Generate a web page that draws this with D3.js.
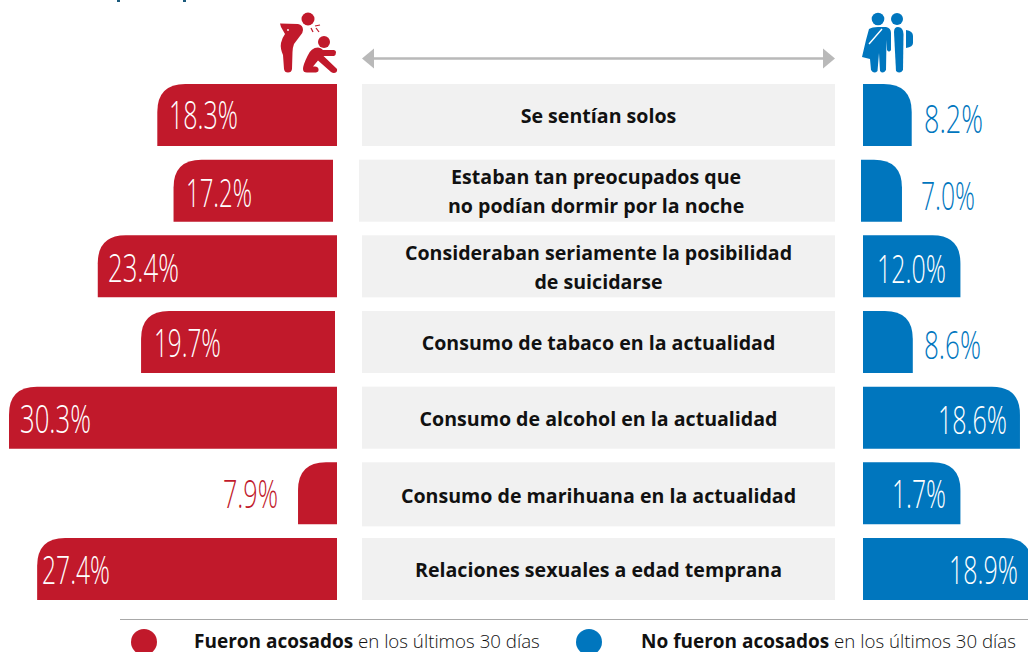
<!DOCTYPE html>
<html><head><meta charset="utf-8">
<script src="https://cdnjs.cloudflare.com/ajax/libs/d3/7.8.5/d3.min.js"></script>
<style>html,body{margin:0;padding:0;background:#fff;overflow:hidden}svg{display:block}</style>
</head><body><svg id="c" width="1028" height="652"></svg>
<script>
const categories=[
 ["Se sentían solos"],
 ["Estaban tan preocupados que","no podían dormir por la noche"],
 ["Consideraban seriamente la posibilidad","de suicidarse"],
 ["Consumo de tabaco en la actualidad"],
 ["Consumo de alcohol en la actualidad"],
 ["Consumo de marihuana en la actualidad"],
 ["Relaciones sexuales a edad temprana"]];
const bulliedLabels=["18.3%","17.2%","23.4%","19.7%","30.3%","7.9%","27.4%"];
const notBulliedLabels=["8.2%","7.0%","12.0%","8.6%","18.6%","1.7%","18.9%"];
// drawn bar lengths as they appear in the picture (the source is not to scale with its labels)
const bulliedBars=[16.6,15.1,22.1,18.1,30.3,3.6,27.7];
const notBulliedBars=[4.5,3.6,9.0,4.6,14.5,9.0,15.6];
const legendBold=["Fueron acosados","No fueron acosados"];
const legendRest=" en los últimos 30 días";

const RED="#c1192b",BLUE="#0076be",GREY="#f1f1f1",ARROW="#b9b9b9";
const svg=d3.select("#c");
const idx=d3.range(categories.length);
const y=d3.scaleBand().domain(idx).range([84,600]).paddingInner(0.18);
const len=d3.scaleLinear().domain([0,30.3]).range([0,328]);
const leftNudge={1:-4,3:-2}, rightNudge={1:-2}, panelNudge={1:-3};
const leftBase=337,rightBase=863,R=28;

function leftBar(x0,x1,t,h){const r=Math.min(R,x1-x0,h);
 const p=d3.path();p.moveTo(x1,t);p.lineTo(x0+r,t);p.quadraticCurveTo(x0,t,x0,t+r);p.lineTo(x0,t+h);p.lineTo(x1,t+h);p.closePath();return p.toString();}
function rightBar(x0,x1,t,h){const r=Math.min(R,x1-x0,h);
 const p=d3.path();p.moveTo(x0,t);p.lineTo(x1-r,t);p.quadraticCurveTo(x1,t,x1,t+r);p.lineTo(x1,t+h);p.lineTo(x0,t+h);p.closePath();return p.toString();}

// clipped remnants of the heading at the very top edge
svg.append("g").attr("fill","#1b5a7c").selectAll("rect").data([117,183]).join("rect")
 .attr("x",d=>d).attr("y",0).attr("width",3).attr("height",2);

// panels
svg.selectAll("rect.panel").data(idx).join("rect").attr("class","panel")
 .attr("x",i=>362+(panelNudge[i]||0)).attr("width",i=>473-(panelNudge[i]||0))
 .attr("y",i=>y(i)).attr("height",i=>y.bandwidth()+(i===5?2:0)).attr("fill",GREY);
// bars
svg.selectAll("path.l").data(idx).join("path").attr("class","l").attr("fill",RED)
 .attr("d",i=>{const b=leftBase+(leftNudge[i]||0);return leftBar(leftBase-len(bulliedBars[i]),b,y(i),y.bandwidth());});
svg.selectAll("path.r").data(idx).join("path").attr("class","r").attr("fill",BLUE)
 .attr("d",i=>{const b=rightBase+(rightNudge[i]||0);return rightBar(b,rightBase+len(notBulliedBars[i]),y(i),y.bandwidth());});

const FONT="'Open Sans',sans-serif";
// squeezes a real text horizontally to the width it has in the picture
function pct(x,yy,t,fill,w){
 const el=svg.append("text").attr("fill",fill).attr("font-family",FONT).attr("font-weight",300).attr("font-size",38).text(t);
 const n=el.node().getComputedTextLength();
 el.attr("transform",`translate(${x},${yy}) scale(${w/n},1)`);
}
const lx=[169,186,108,154,20,223,42], lw=[69,66,71,67,71,55,68];
const rx=[924,921,877,924,938,892,949], rw=[59,54,69,57,69,54,69];
const ldy=[14,16,16,15,15,15,15];
const rdy=[18,19,17,17,16,15,15];
idx.forEach(i=>{
 const c=y(i)+y.bandwidth()/2;
 pct(lx[i],c+ldy[i],bulliedLabels[i],i===5?RED:"#fff",lw[i]);
 pct(rx[i],c+rdy[i],notBulliedLabels[i],[0,1,3].includes(i)?BLUE:"#fff",rw[i]);
 const lines=categories[i];
 const cx=598.5+(panelNudge[i]||0)*0.8;
 lines.forEach((t,k)=>{
  const el=svg.append("text").attr("text-anchor","middle").attr("fill","#111").attr("font-family",FONT)
   .attr("font-weight",700).attr("font-size",20).text(t);
  el.attr("transform",`translate(${cx},${c+8+(i===5?2:0)+(k-(lines.length-1)/2)*29}) scale(0.98,1)`);
 });
});

// double arrow
svg.append("line").attr("x1",370).attr("x2",827).attr("y1",58.5).attr("y2",58.5).attr("stroke",ARROW).attr("stroke-width",2.5);
svg.append("path").attr("fill",ARROW).attr("d","M362,58.5L374,48.5V68.5Z");
svg.append("path").attr("fill",ARROW).attr("d","M835,58.5L823,48.5V68.5Z");

// icons
const ic=svg.append("g").attr("fill",RED);
ic.append("circle").attr("cx",308).attr("cy",19).attr("r",6.5);
ic.append("path").attr("d","M280,23.5L298,24Q303,25 303,30Q303,33 300,36L294,44Q292.5,48 292.5,52L292,69Q291.5,72.5 288,72.5Q284.5,72.5 284,69L283,55Q280,48 281,43Q282,38 285,34L281,27Z");
ic.append("circle").attr("cx",324).attr("cy",42).attr("r",6);
ic.append("path").attr("d","M318,47.5Q311,47.5 307.5,56Q303,65 303,69Q303,72.5 307,72.5L316,72.5Q319,72 318.5,69Q318,66.5 315,66.5L313,66.5L318,60.5L331,72Q334,74 336.5,72Q338,69.5 336,68L323.5,56L334,56Q336,55 336,52.5Q336,50 333.5,50L323,50Q321,47.5 318,47.5Z");
svg.append("circle").attr("cx",288).attr("cy",30).attr("r",0.9).attr("fill","#fff");
svg.append("g").attr("stroke",RED).attr("stroke-width",1.2).selectAll("line")
 .data([[315,26,320,25],[311,28,313,32],[316,28,319,32]]).join("line")
 .attr("x1",d=>d[0]).attr("y1",d=>d[1]).attr("x2",d=>d[2]).attr("y2",d=>d[3]);
const ib=svg.append("g").attr("fill",BLUE);
ib.append("circle").attr("cx",878).attr("cy",19).attr("r",6.3);
ib.append("circle").attr("cx",897).attr("cy",19).attr("r",6);
ib.append("path").attr("d","M869,29Q872,27 878,27L886,27Q891,28 891,33L891,50Q889,53 887,50L886.5,40L886,70Q883,74.5 880,71L879,53L877.5,71Q874,74.5 871,70L870,59L862,57L866,40Z");
ib.append("path").attr("d","M894,32Q894,27 898,27Q903,27 903.5,34L903,70Q900,74.5 896,71L895,52Z");
ib.append("path").attr("d","M906,30Q913,31 913,36V43Q913,47 906,48Z");
svg.append("line").attr("x1",869).attr("y1",44).attr("x2",882).attr("y2",29).attr("stroke","#fff").attr("stroke-width",1.4);

// legend
svg.append("line").attr("x1",120).attr("x2",1028).attr("y1",619.5).attr("y2",619.5).attr("stroke","#a8a8a8").attr("stroke-width",1);
[[144,194,RED],[589,641,BLUE]].forEach((d,i)=>{
 svg.append("circle").attr("cx",d[0]).attr("cy",642).attr("r",13).attr("fill",d[2]);
 const t=svg.append("text").attr("x",d[1]).attr("y",648).attr("font-family",FONT).attr("fill","#111");
 t.append("tspan").attr("font-weight",700).attr("font-size",19).text(legendBold[i]);
 t.append("tspan").attr("font-weight",300).attr("font-size",18.7).text(legendRest);
});
</script></body></html>
